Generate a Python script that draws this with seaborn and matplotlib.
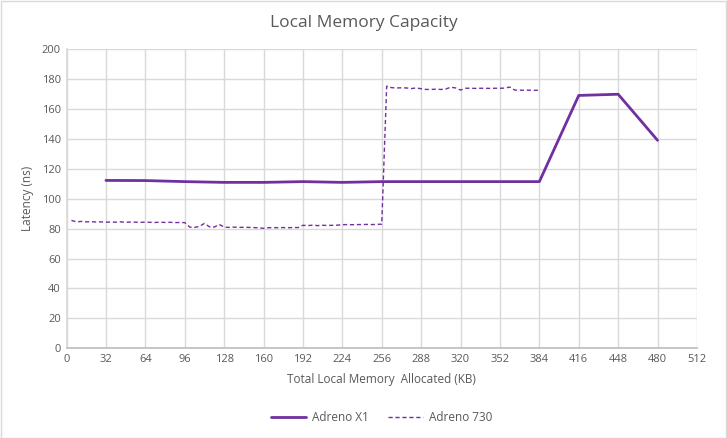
import numpy as np
import pandas as pd
import matplotlib
matplotlib.use("Agg")
import matplotlib.pyplot as plt
import seaborn as sns

# Adreno X1 (solid)
x1_kb = [32, 64, 96, 128, 160, 192, 224, 256, 288, 320, 352, 384, 416, 448, 480]
x1_lat = [112.2, 112.1, 111.4, 110.9, 110.9, 111.4, 110.9, 111.4, 111.4, 111.4, 111.4, 111.4, 169.0, 169.8, 139.0]

# Adreno 730 (dashed), 4 KB steps
a730_kb = list(range(4, 388, 4))
a730_lat = [
    85.5, 84.5, 84.8, 84.5, 84.6, 84.4, 84.5, 84.3, 84.4, 84.3, 84.5, 84.2,
    84.4, 84.3, 84.2, 84.3, 84.2, 84.1, 84.3, 84.1, 84.2, 84.0, 84.1, 84.0,
    81.0, 80.8, 81.5, 83.5, 81.2, 81.0, 82.8, 81.0, 80.8, 81.0, 80.8, 80.9,
    80.8, 80.7, 80.5, 80.2, 80.6, 80.7, 80.6, 80.7, 80.6, 80.7, 80.7, 82.2,
    82.0, 82.3, 82.0, 82.2, 82.1, 82.2, 82.3, 82.6, 82.7, 82.6, 82.7, 82.7,
    82.8, 82.7, 82.8, 83.0, 175.2, 174.2, 174.0, 174.1, 174.0, 173.6, 174.0, 173.5,
    173.0, 173.0, 173.2, 173.0, 173.3, 174.5, 174.0, 172.6, 173.8, 173.8, 173.7, 173.8,
    173.8, 173.7, 173.8, 173.8, 173.9, 174.6, 172.6, 172.5, 172.5, 172.5, 172.4, 172.5,
]

x_ticks = list(range(0, 513, 32))
y_ticks = list(range(0, 201, 20))

df1 = pd.DataFrame({"kb": x1_kb, "lat": x1_lat})
df2 = pd.DataFrame({"kb": a730_kb, "lat": a730_lat})

sns.set_theme(style="white")
plt.rcParams['font.family'] = ['Open Sans', 'DejaVu Sans']

color = "#7030A0"
fig = plt.figure(figsize=(7.27, 4.38), dpi=100)
ax = fig.add_axes([0.0915, 0.2048, 0.8672, 0.6832])

sns.lineplot(data=df1, x="kb", y="lat", ax=ax, color=color, linewidth=2.0, label="Adreno X1")
sns.lineplot(data=df2, x="kb", y="lat", ax=ax, color=color, linewidth=1.0,
             linestyle=(0, (3, 2)), label="Adreno 730")

ax.set_xlim(0, 512)
ax.set_ylim(0, 200)
ax.set_xticks(x_ticks)
ax.set_yticks(y_ticks)
ax.grid(True, color="#d9d9d9", linewidth=1.0)
ax.set_axisbelow(True)
for s in ["top", "right"]:
    ax.spines[s].set_visible(False)
ax.spines["left"].set_color("#d9d9d9")
ax.spines["bottom"].set_color("#bfbfbf")
ax.tick_params(axis="both", colors="#595959", labelsize=8, length=0, pad=4)
ax.set_xlabel("Total Local Memory  Allocated (KB)", fontsize=8.5, color="#595959", labelpad=6)
ax.set_ylabel("Latency (ns)", fontsize=8.5, color="#595959", labelpad=6)
fig.text(0.5, 0.947, "Local Memory Capacity", ha="center", va="center", fontsize=12.5, color="#595959")

ax.legend(loc="upper center", bbox_to_anchor=(0.5, -0.175), ncol=2, frameon=False,
          fontsize=8.5, labelcolor="#595959", handlelength=3.0, handletextpad=0.5,
          columnspacing=1.6)

fig.patches.append(plt.Rectangle((0.001, 0.001), 0.997, 0.997, transform=fig.transFigure,
                                 fill=False, edgecolor="#d9d9d9", linewidth=1))
fig.savefig("out.png", dpi=100, facecolor="white")
